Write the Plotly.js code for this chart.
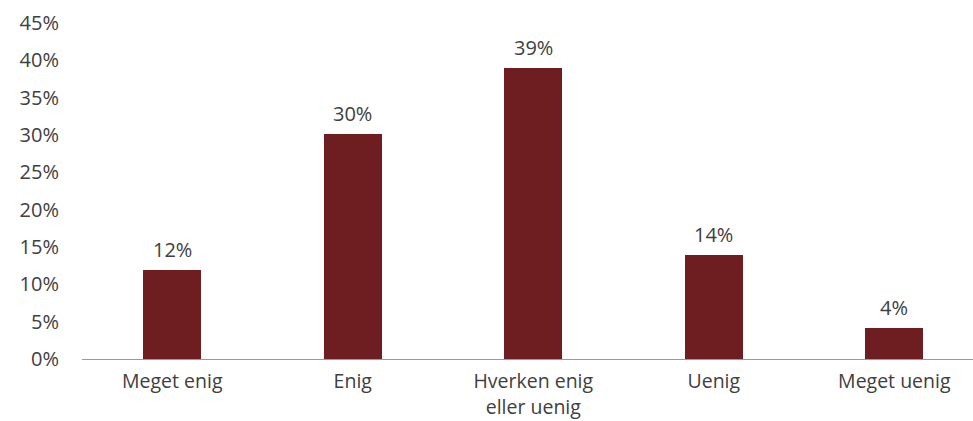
<!DOCTYPE html>
<html><head><meta charset="utf-8">
<script src="https://cdn.plot.ly/plotly-3.0.1.min.js"></script>
<style>html,body{margin:0;padding:0;background:#fff}#chart{width:973px;height:421px}</style>
</head><body><div id="chart"></div>
<script>
var categories = ["Meget enig", "Enig", "Hverken enig<br>eller uenig", "Uenig", "Meget uenig"];
var values = [11.9, 30.2, 39.0, 13.9, 4.1];
var labels = ["12%", "30%", "39%", "14%", "4%"];
var yTicks = [0, 5, 10, 15, 20, 25, 30, 35, 40, 45];
var yTickText = yTicks.map(function(v){ return v + "%"; });

var font = "'Open Sans', sans-serif";
var txtColor = "#404040";
var fs = 20;

var trace = {
  type: "bar", x: categories, y: values,
  marker: {color: "#6e1d20"}, width: 0.32,
  hoverinfo: "skip"
};
var annotations = categories.map(function(c, i){
  return {x: c, y: values[i], text: labels[i], showarrow: false, yanchor: "bottom",
          yshift: 5, font: {family: font, size: fs, color: txtColor}};
});
var layout = {
  width: 973, height: 421,
  margin: {l: 82, r: 0, t: 23, b: 62},
  paper_bgcolor: "#fff", plot_bgcolor: "#fff",
  showlegend: false, bargap: 0,
  font: {family: font, size: fs, color: txtColor},
  xaxis: {range: [-0.5, 4.436], showline: true, linecolor: "#9a9a9a", linewidth: 1,
          showgrid: false, zeroline: false, ticks: "", ticklabelstandoff: 5,
          tickfont: {family: font, size: 19.5, color: txtColor}},
  yaxis: {range: [0, 45], tickvals: yTicks, ticktext: yTickText, showgrid: false,
          zeroline: false, showline: false, ticks: "", ticklabelstandoff: 22,
          tickfont: {family: font, size: fs, color: txtColor}},
  annotations: annotations
};
Plotly.newPlot("chart", [trace], layout, {displayModeBar: false, staticPlot: true});
</script></body></html>
